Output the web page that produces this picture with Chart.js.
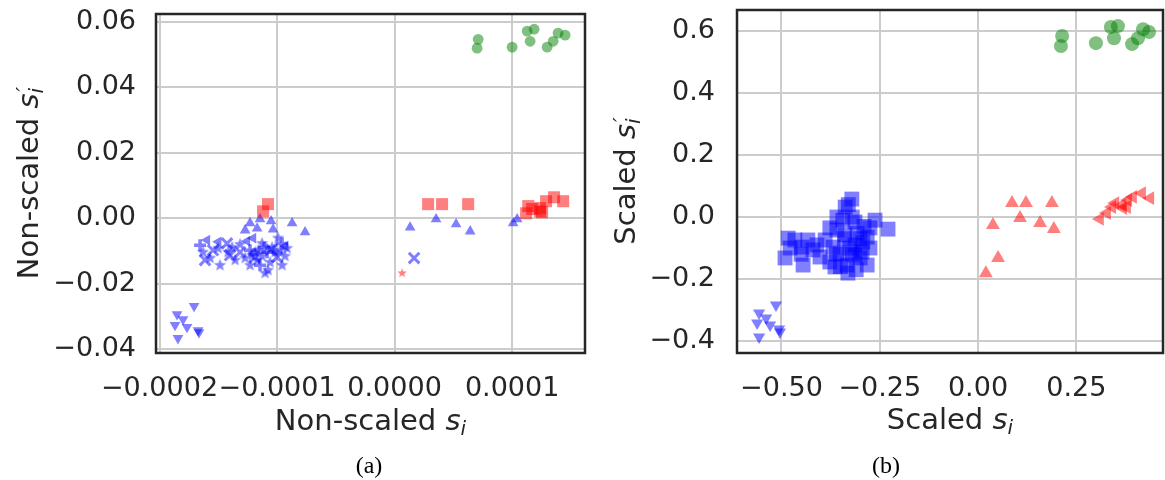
<!DOCTYPE html>
<html><head><meta charset="utf-8">
<script src="https://cdn.jsdelivr.net/npm/chart.js@4/dist/chart.umd.min.js"></script>
<style>
html,body{margin:0;padding:0;background:#fff;}
#wrap{position:relative;width:1165px;height:480px;overflow:hidden;}
canvas{position:absolute;top:0;}
</style></head><body>
<div id="wrap">
<canvas id="chartA" width="590" height="480" style="left:0"></canvas>
<canvas id="chartB" width="575" height="480" style="left:590px"></canvas>
</div>
<script>
// ── data: (a) non-scaled ──
const aXTicks = [-0.0002, -0.0001, 0, 0.0001];
const aYTicks = [-0.04, -0.02, 0, 0.02, 0.04, 0.06];
const aGreenCircles = [[7.11e-5,0.0547],[7.02e-5,0.0520],[1.00e-4,0.0523],[1.128e-4,0.0572],[1.187e-4,0.0578],[1.153e-4,0.0541],[1.298e-4,0.0523],[1.349e-4,0.0541],[1.391e-4,0.0566],[1.451e-4,0.0560]];
const aRedSquares = [[-1.077e-4,0.0043],[-1.119e-4,0.0021],[2.85e-5,0.0043],[4.04e-5,0.0043],[6.26e-5,0.0043],[1.137e-4,0.0037],[1.119e-4,0.0015],[1.170e-4,0.0028],[1.238e-4,0.0021],[1.255e-4,0.0018],[1.289e-4,0.0052],[1.357e-4,0.0064],[1.434e-4,0.0052],[1.238e-4,0.0031]];
const aRedStar = [[6.4e-6,-0.0168]];
const aBlueUp = [[1.32e-5,-0.0028],[3.53e-5,-0.0003],[5.23e-5,-0.0018],[6.43e-5,-0.0040],[1.009e-4,-0.0015],[1.043e-4,-0.0003],[-1.230e-4,-0.0015],[-1.272e-4,-0.0037],[-1.145e-4,-0.0003],[-1.051e-4,-0.0009],[-8.72e-5,-0.0015],[-7.62e-5,-0.0043],[-1.170e-4,-0.0031],[-1.034e-4,-0.0034]];
const aBlueLeft = [[-1.596e-4,-0.0067],[-1.255e-4,-0.0070],[-1.204e-4,-0.0061],[-1.50e-4,-0.0072],[-9.3e-5,-0.0085]];
const aBlueDown = [[-1.706e-4,-0.0269],[-1.851e-4,-0.0294],[-1.800e-4,-0.0309],[-1.868e-4,-0.0327],[-1.766e-4,-0.0333],[-1.672e-4,-0.0343],[-1.664e-4,-0.0349],[-1.843e-4,-0.0367]];
const aBlueStars = [[-1.630e-4,-0.0104],[-1.485e-4,-0.0144],[-1.357e-4,-0.0128],[-1.230e-4,-0.0144],[-1.170e-4,-0.0128],[-1.102e-4,-0.0168],[-1.077e-4,-0.0159],[-9.57e-5,-0.0144],[-9.15e-5,-0.0092],[-1.043e-4,-0.0089],[-1.187e-4,-0.0104],[-1.417e-4,-0.0104],[-9.91e-5,-0.0061],[-1.128e-4,-0.0077],
  [-1.213e-4,-0.0113],[-1.162e-4,-0.0098],[-1.128e-4,-0.0116],[-1.017e-4,-0.0104],[-9.74e-5,-0.0098],[-9.32e-5,-0.0116],[-1.060e-4,-0.0135],[-1.272e-4,-0.0122],[-1.383e-4,-0.0089],[-1.502e-4,-0.0092],[-1.570e-4,-0.0122],[-1.315e-4,-0.0080]];
const aBlueX = [[-1.613e-4,-0.0128],[-1.545e-4,-0.0098],[-1.315e-4,-0.0104],[-1.000e-4,-0.0119],[-1.426e-4,-0.0077],[1.66e-5,-0.0122],[-1.400e-4,-0.0113],[-1.190e-4,-0.0120],[-1.050e-4,-0.0095]];
const aBluePlus = [[-1.230e-4,-0.0098],[-1.085e-4,-0.0104],[-1.145e-4,-0.0144],[-9.57e-5,-0.0077],[-1.655e-4,-0.0083],[-1.110e-4,-0.0090]];

// ── data: (b) scaled ──
const bXTicks = [-0.5, -0.25, 0, 0.25];
const bYTicks = [-0.4, -0.2, 0, 0.2, 0.4, 0.6];
const bGreenCircles = [[0.214,0.584],[0.211,0.552],[0.300,0.561],[0.338,0.613],[0.356,0.616],[0.346,0.577],[0.392,0.558],[0.407,0.577],[0.420,0.606],[0.435,0.597]];
const bRedUp = [[0.0865,0.045],[0.122,0.045],[0.188,0.045],[0.038,-0.026],[0.107,-0.003],[0.158,-0.019],[0.193,-0.039],[0.051,-0.132],[0.020,-0.181]];
const bRedLeft = [[0.310,-0.006],[0.328,0.013],[0.341,0.032],[0.349,0.045],[0.369,0.029],[0.379,0.032],[0.382,0.055],[0.394,0.065],[0.417,0.077],[0.438,0.061],[0.366,0.039]];
const bBlueSquares = [[-0.321,0.058],[-0.338,0.032],[-0.359,0.000],[-0.344,-0.010],[-0.313,-0.016],[-0.262,-0.010],[-0.229,-0.039],[-0.377,-0.035],[-0.359,-0.042],[-0.308,-0.052],[-0.282,-0.065],[-0.483,-0.068],[-0.433,-0.074],[-0.478,-0.100],[-0.448,-0.097],[-0.491,-0.132],[-0.445,-0.155],[-0.420,-0.106],[-0.402,-0.129],[-0.369,-0.097],[-0.351,-0.116],[-0.377,-0.145],[-0.333,-0.155],[-0.331,-0.181],[-0.300,-0.132],[-0.282,-0.155],[-0.275,-0.100],[-0.293,-0.081],[-0.326,-0.100],[-0.364,-0.161],[-0.295,-0.113],[-0.466,-0.074],[-0.389,-0.074],[-0.338,-0.058],[-0.313,-0.090],[-0.313,-0.123],[-0.275,-0.035],
  [-0.340,-0.070],[-0.320,-0.120],[-0.300,-0.070],[-0.360,-0.120],[-0.350,-0.160],[-0.310,-0.170],[-0.410,-0.090],[-0.450,-0.120],[-0.320,0.000],[-0.330,0.040],[-0.290,-0.030]];
const bBlueDown = [[-0.514,-0.284],[-0.557,-0.310],[-0.539,-0.326],[-0.562,-0.342],[-0.529,-0.348],[-0.506,-0.361],[-0.504,-0.371],[-0.557,-0.387]];

const BLUE = 'rgba(0,0,255,0.5)', RED = 'rgba(255,0,0,0.5)', GREEN = 'rgba(0,128,0,0.5)';
const INK = '#262626';
const pts = arr => arr.map(([x, y]) => ({x, y}));
const fmt = d => v => v.toFixed(d).replace('-', '\u2212');

function starImage(r, color) {
  const c = document.createElement('canvas');
  const s = Math.ceil(r * 2 + 2); c.width = c.height = s;
  const g = c.getContext('2d');
  g.fillStyle = color; g.beginPath();
  for (let i = 0; i < 10; i++) {
    const rr = i % 2 ? r * 0.42 : r, ang = -Math.PI / 2 + i * Math.PI / 5;
    g.lineTo(s / 2 + rr * Math.cos(ang), s / 2 + rr * Math.sin(ang));
  }
  g.closePath(); g.fill();
  return c;
}

function ds(data, style, radius, color, extra) {
  return Object.assign({ data: pts(data), pointStyle: style, pointRadius: radius, pointHoverRadius: radius,
    pointBackgroundColor: color, pointBorderColor: color, pointBorderWidth: 0, pointRotation: 0 }, extra || {});
}

// s_i style axis titles
function mathText(ctx, cx, y, word, prime) {
  const big = 29, small = 20;
  ctx.textBaseline = 'alphabetic'; ctx.textAlign = 'left';
  ctx.font = big + 'px "DejaVu Sans"'; const w1 = ctx.measureText(word + ' ').width;
  ctx.font = 'italic ' + big + 'px "DejaVu Sans"'; const w2 = ctx.measureText('s').width;
  ctx.font = 'italic ' + small + 'px "DejaVu Sans"';
  const w3 = Math.max(ctx.measureText('i').width, prime ? ctx.measureText('\u2032').width : 0);
  let x = cx - (w1 + w2 + w3) / 2;
  ctx.font = big + 'px "DejaVu Sans"'; ctx.fillText(word + ' ', x, y); x += w1;
  ctx.font = 'italic ' + big + 'px "DejaVu Sans"'; ctx.fillText('s', x, y); x += w2;
  ctx.font = 'italic ' + small + 'px "DejaVu Sans"';
  ctx.fillText('i', x, y + 5);
  if (prime) ctx.fillText('\u2032', x + 2, y - 8);
}

const frameAndLabels = {
  id: 'frameAndLabels',
  afterDraw(chart, args, o) {
    const {ctx, chartArea: a} = chart;
    ctx.save();
    ctx.strokeStyle = INK; ctx.lineWidth = 2.5;
    ctx.strokeRect(a.left, a.top, a.right - a.left, a.bottom - a.top);
    ctx.fillStyle = INK;
    mathText(ctx, (a.left + a.right) / 2, o.xTitleY, o.xTitle, false);
    ctx.save();
    ctx.translate(o.yTitleX, (a.top + a.bottom) / 2); ctx.rotate(-Math.PI / 2);
    mathText(ctx, 0, 0, o.yTitle, true);
    ctx.restore();
    ctx.fillStyle = '#000'; ctx.font = '24px "Liberation Serif"';
    ctx.textAlign = 'center'; ctx.textBaseline = 'middle';
    ctx.fillText(o.caption, o.captionX, o.captionY);
    ctx.restore();
  }
};

function makeOptions(p) {
  const tickFont = { family: 'DejaVu Sans', size: 27 };
  return {
    responsive: false, animation: false,
    layout: { autoPadding: false, padding: p.padding },
    plugins: { legend: { display: false }, tooltip: { enabled: false }, frameAndLabels: p.labels },
    scales: {
      x: { type: 'linear', min: p.xMin, max: p.xMax,
        afterBuildTicks: s => { s.ticks = p.xTicks.map(v => ({ value: v })); },
        afterFit: s => { s.height = 127; s.paddingLeft = 0; s.paddingRight = 0; },
        ticks: { font: tickFont, color: INK, padding: 20, autoSkip: false, maxRotation: 0, minRotation: 0, callback: fmt(p.xDec) },
        grid: { color: '#cccccc', lineWidth: 2, drawTicks: false }, border: { display: false } },
      y: { type: 'linear', min: p.yMin, max: p.yMax,
        afterBuildTicks: s => { s.ticks = p.yTicks.map(v => ({ value: v })); },
        afterFit: s => { s.width = p.yWidth; s.paddingTop = 0; s.paddingBottom = 0; },
        ticks: { font: tickFont, color: INK, padding: p.yPad, autoSkip: false, callback: fmt(p.yDec) },
        grid: { color: '#cccccc', lineWidth: 2, drawTicks: false }, border: { display: false } }
    }
  };
}

// (a) Non-scaled
new Chart(document.getElementById('chartA').getContext('2d'), {
  type: 'scatter',
  data: { datasets: [
    ds(aGreenCircles, 'circle', 5.4, GREEN),
    ds(aRedSquares, 'rect', 8.5, RED),
    ds(aRedStar, starImage(5, RED), 5, RED),
    ds(aBlueUp, 'triangle', 6.2, BLUE),
    ds(aBlueLeft, 'triangle', 6.2, BLUE, { pointRotation: -90 }),
    ds(aBlueDown, 'triangle', 6.2, BLUE, { pointRotation: 180 }),
    ds(aBlueStars, starImage(6.5, BLUE), 6.5, BLUE),
    ds(aBlueX, 'crossRot', 7.5, BLUE, { pointBorderWidth: 3 }),
    ds(aBluePlus, 'cross', 6, BLUE, { pointBorderWidth: 3.5 })
  ] },
  options: makeOptions({
    padding: { left: 0, right: 5, top: 14, bottom: 0 },
    xMin: -0.000203, xMax: 0.000162, xTicks: aXTicks, xDec: 4,
    yMin: -0.04122, yMax: 0.06245, yTicks: aYTicks, yDec: 2,
    yWidth: 156, yPad: 20,
    labels: { xTitle: 'Non-scaled', yTitle: 'Non-scaled', xTitleY: 430, yTitleX: 38, caption: '(a)', captionX: 369, captionY: 467 }
  }),
  plugins: [frameAndLabels]
});

// (b) Scaled
new Chart(document.getElementById('chartB').getContext('2d'), {
  type: 'scatter',
  data: { datasets: [
    ds(bGreenCircles, 'circle', 7, GREEN),
    ds(bRedUp, 'triangle', 8, RED),
    ds(bRedLeft, 'triangle', 8, RED, { pointRotation: -90 }),
    ds(bBlueSquares, 'rect', 10.5, BLUE),
    ds(bBlueDown, 'triangle', 7, BLUE, { pointRotation: 180 })
  ] },
  options: makeOptions({
    padding: { left: 0, right: 2, top: 10, bottom: 0 },
    xMin: -0.6132, xMax: 0.4707, xTicks: bXTicks, xDec: 2,
    yMin: -0.4387, yMax: 0.668, yTicks: bYTicks, yDec: 1,
    yWidth: 147, yPad: 22,
    labels: { xTitle: 'Scaled', yTitle: 'Scaled', xTitleY: 429, yTitleX: 45, caption: '(b)', captionX: 296, captionY: 467 }
  }),
  plugins: [frameAndLabels]
});
</script>
</body></html>
